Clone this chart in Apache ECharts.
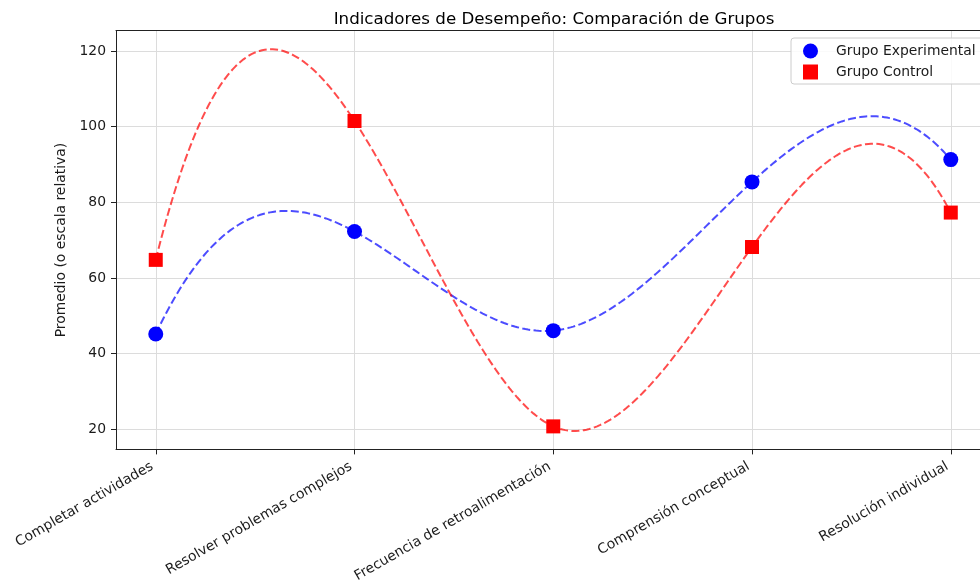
<!DOCTYPE html>
<html>
<head>
<meta charset="utf-8">
<script src="https://cdn.jsdelivr.net/npm/echarts@6/dist/echarts.min.js"></script>
<style>
html,body{margin:0;padding:0;background:#fff;}
#chart{width:980px;height:585px;}
</style>
</head>
<body>
<div id="chart"></div>
<script>
const categories = [
  'Completar actividades',
  'Resolver problemas complejos',
  'Frecuencia de retroalimentación',
  'Comprensión conceptual',
  'Resolución individual'
];
const experimental = [45.2, 72.3, 46.1, 85.4, 91.3];
const control = [64.8, 101.5, 20.8, 68.2, 77.3];
const yTicks = [20, 40, 60, 80, 100, 120];
const xTicks = [0, 1, 2, 3, 4];

// Not-a-knot cubic spline through the data points (smooth dashed curve)
function splineCurve(xs, ys, samples) {
  const n = xs.length;
  const h = [];
  for (let i = 0; i < n - 1; i++) h.push(xs[i + 1] - xs[i]);
  const A = [], b = [];
  for (let i = 0; i < n; i++) { A.push(new Array(n).fill(0)); b.push(0); }
  A[0][0] = -h[1]; A[0][1] = h[0] + h[1]; A[0][2] = -h[0];
  for (let i = 1; i < n - 1; i++) {
    A[i][i - 1] = h[i - 1];
    A[i][i] = 2 * (h[i - 1] + h[i]);
    A[i][i + 1] = h[i];
    b[i] = 6 * ((ys[i + 1] - ys[i]) / h[i] - (ys[i] - ys[i - 1]) / h[i - 1]);
  }
  A[n - 1][n - 3] = -h[n - 2]; A[n - 1][n - 2] = h[n - 3] + h[n - 2]; A[n - 1][n - 1] = -h[n - 3];
  for (let c = 0; c < n; c++) {
    let p = c;
    for (let r = c + 1; r < n; r++) if (Math.abs(A[r][c]) > Math.abs(A[p][c])) p = r;
    [A[c], A[p]] = [A[p], A[c]]; [b[c], b[p]] = [b[p], b[c]];
    for (let r = c + 1; r < n; r++) {
      const f = A[r][c] / A[c][c];
      for (let k = c; k < n; k++) A[r][k] -= f * A[c][k];
      b[r] -= f * b[c];
    }
  }
  const M = new Array(n).fill(0);
  for (let r = n - 1; r >= 0; r--) {
    let s = b[r];
    for (let k = r + 1; k < n; k++) s -= A[r][k] * M[k];
    M[r] = s / A[r][r];
  }
  const out = [];
  const x0 = xs[0], x1 = xs[n - 1];
  for (let s = 0; s < samples; s++) {
    const x = x0 + (x1 - x0) * s / (samples - 1);
    let i = n - 2;
    for (let j = 0; j < n - 1; j++) if (x >= xs[j] && x <= xs[j + 1]) { i = j; break; }
    const hi = h[i], a = xs[i + 1] - x, bb = x - xs[i];
    const y = M[i] * a * a * a / (6 * hi) + M[i + 1] * bb * bb * bb / (6 * hi)
      + (ys[i] / hi - M[i] * hi / 6) * a + (ys[i + 1] / hi - M[i + 1] * hi / 6) * bb;
    out.push([x, y]);
  }
  return out;
}

const font = 'DejaVu Sans';
const txt = '#1a1a1a';
const chart = echarts.init(document.getElementById('chart'), null, {renderer: 'canvas'});

const dashed = {type: [8, 3.4], width: 2};
// visible x-range: the plot continues past the right edge of the figure
const xMin = -0.2, xMax = 4.147;

chart.setOption({
  animation: false,
  backgroundColor: '#fff',
  title: {
    text: 'Indicadores de Desempeño: Comparación de Grupos',
    left: 549,
    textAlign: 'center',
    top: 6,
    textStyle: {fontFamily: font, fontSize: 16.7, fontWeight: 'normal', color: '#000'}
  },
  legend: {
    orient: 'vertical',
    left: 791,
    top: 38,
    padding: [5.5, 12, 4.5, 12],
    itemWidth: 15,
    itemHeight: 15,
    itemGap: 6,
    backgroundColor: 'rgba(255,255,255,0.85)',
    borderColor: '#cccccc',
    borderWidth: 1,
    borderRadius: 3,
    data: [
      {name: 'Grupo Experimental', icon: 'circle'},
      {name: 'Grupo Control', icon: 'rect'}
    ],
    textStyle: {fontFamily: font, fontSize: 13.9, color: txt, padding: [0, 0, 0, 13], lineHeight: 15}
  },
  grid: {
    left: 116, top: 30.7, height: 419.3, right: 0,
    show: false
  },
  xAxis: [{
    type: 'value',
    min: xMin, max: xMax,
    axisLine: {show: true, onZero: false, lineStyle: {color: '#222', width: 1}},
    axisTick: {show: true, length: 5, inside: false, customValues: xTicks, lineStyle: {color: '#222'}},
    axisLabel: {
      customValues: xTicks,
      rotate: 30,
      margin: 14,
      padding: [0, 4, 0, 0],
      fontFamily: font, fontSize: 13.9, color: txt,
      formatter: v => categories[Math.round(v)]
    },
    splitLine: {show: true, lineStyle: {color: '#dcdcdc', width: 1}}
  }, {
    type: 'value',
    position: 'top',
    min: xMin, max: xMax,
    axisLine: {show: true, onZero: false, lineStyle: {color: '#222', width: 1}},
    axisTick: {show: false},
    axisLabel: {show: false},
    splitLine: {show: false}
  }],
  yAxis: {
    type: 'value',
    min: 14.72, max: 125.36,
    name: 'Promedio (o escala relativa)',
    nameLocation: 'middle',
    nameGap: 44,
    nameTextStyle: {fontFamily: font, fontSize: 13.9, color: txt},
    axisLine: {show: true, onZero: false, lineStyle: {color: '#222', width: 1}},
    axisTick: {show: true, length: 5, inside: false, customValues: yTicks, lineStyle: {color: '#222'}},
    axisLabel: {customValues: yTicks, margin: 10, fontFamily: font, fontSize: 13.9, color: txt},
    splitLine: {show: true, lineStyle: {color: '#dcdcdc', width: 1}}
  },
  series: [
    {
      name: 'spline-exp', type: 'line', showSymbol: false, silent: true, z: 2,
      data: splineCurve(xTicks, experimental, 300),
      lineStyle: Object.assign({color: '#0000ff', opacity: 0.7}, dashed)
    },
    {
      name: 'spline-ctrl', type: 'line', showSymbol: false, silent: true, z: 2,
      data: splineCurve(xTicks, control, 300),
      lineStyle: Object.assign({color: '#ff0000', opacity: 0.7}, dashed)
    },
    {
      name: 'Grupo Experimental', type: 'scatter', symbol: 'circle', symbolSize: 15, z: 3,
      itemStyle: {color: '#0000ff', opacity: 1},
      data: xTicks.map((x, i) => [x, experimental[i]])
    },
    {
      name: 'Grupo Control', type: 'scatter', symbol: 'rect', symbolSize: 14, z: 3,
      itemStyle: {color: '#ff0000', opacity: 1},
      data: xTicks.map((x, i) => [x, control[i]])
    }
  ]
});
</script>
</body>
</html>
